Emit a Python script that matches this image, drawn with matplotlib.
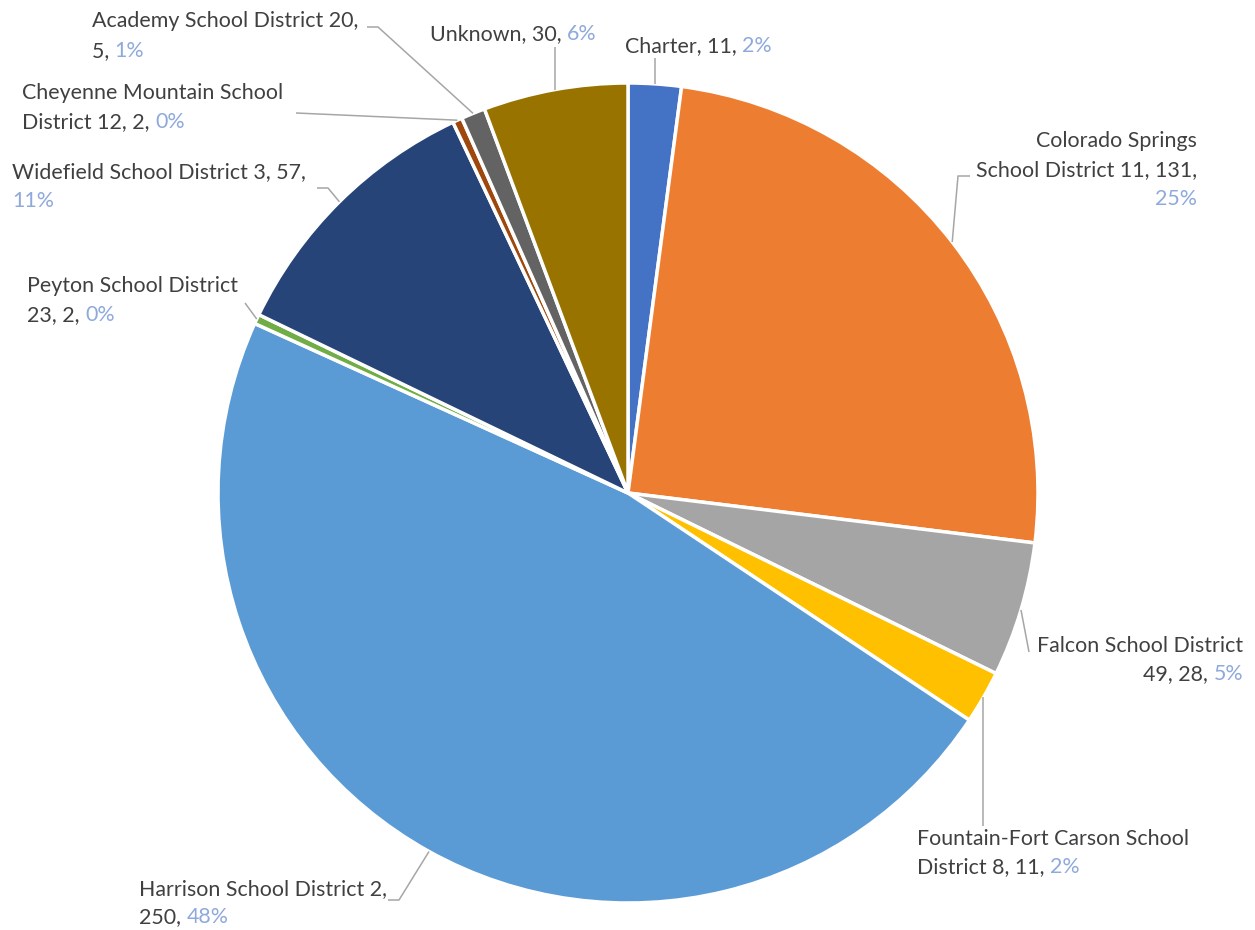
import numpy as np
import matplotlib.pyplot as plt

# data (counts per district, clockwise from top)
districts = [
    "Charter",
    "Colorado Springs School District 11",
    "Falcon School District 49",
    "Fountain-Fort Carson School District 8",
    "Harrison School District 2",
    "Peyton School District 23",
    "Widefield School District 3",
    "Cheyenne Mountain School District 12",
    "Academy School District 20",
    "Unknown",
]
counts = [11, 131, 28, 11, 250, 2, 57, 2, 5, 30]
pct_labels = ["2%", "25%", "5%", "2%", "48%", "0%", "11%", "0%", "1%", "6%"]
colors = ["#4472C4", "#ED7D31", "#A5A5A5", "#FFC000", "#5B9BD5",
          "#70AD47", "#264478", "#9E480E", "#636363", "#997300"]

W, H = 1255, 930
TEXT_COLOR = "#404040"
PCT_COLOR = "#8EA9DB"
LINE_COLOR = "#A6A6A6"
FONT = "Lato"
FSIZE = 15.4


def py(y):
    # pixel row (from top) -> data y
    return H - y


fig = plt.figure(figsize=(W / 100, H / 100), dpi=100)
ax = fig.add_axes([0, 0, 1, 1])
cx, cy, R = 628, py(493), 410
wedges, _ = ax.pie(counts, colors=colors, startangle=90, counterclock=False,
                   radius=R, center=(cx, cy),
                   wedgeprops=dict(edgecolor="white", linewidth=2.5))
ax.set_xlim(0, W)
ax.set_ylim(0, H)
ax.axis("off")

# label layout: text lines as (text, is_percent) segments, anchor x, alignment,
# baselines (pixel rows) and leader elbows (pixel coords, None = same x as wedge point)
layout = {
    0: dict(lines=[[(f"{districts[0]}, {counts[0]}, ", False), (pct_labels[0], True)]],
            x=625, ha="left", base=[52], path=[(None, 58)]),
    1: dict(lines=[[("Colorado Springs", False)],
                   [(f"School District 11, {counts[1]},", False)],
                   [(pct_labels[1], True)]],
            x=1197, ha="right", base=[147, 176, 205], path=[(958, 176), (970, 176)]),
    2: dict(lines=[[("Falcon School District", False)],
                   [(f"49, {counts[2]}, ", False), (pct_labels[2], True)]],
            x=1243, ha="right", base=[652, 680], path=[(1029, 652)]),
    3: dict(lines=[[("Fountain-Fort Carson School", False)],
                   [(f"District 8, {counts[3]}, ", False), (pct_labels[3], True)]],
            x=917, ha="left", base=[845, 873], path=[(None, 826)]),
    4: dict(lines=[[("Harrison School District 2,", False)],
                   [(f"{counts[4]}, ", False), (pct_labels[4], True)]],
            x=139, ha="left", base=[895, 923], path=[(399, 900), (388, 900)]),
    5: dict(lines=[[("Peyton School District", False)],
                   [(f"23, {counts[5]}, ", False), (pct_labels[5], True)]],
            x=27, ha="left", base=[292, 321], path=[(245, 303)]),
    6: dict(lines=[[(f"Widefield School District 3, {counts[6]},", False)],
                   [(pct_labels[6], True)]],
            x=12, ha="left", base=[178, 207], path=[(328, 188), (317, 188)]),
    7: dict(lines=[[("Cheyenne Mountain School", False)],
                   [(f"District 12, {counts[7]}, ", False), (pct_labels[7], True)]],
            x=22, ha="left", base=[99, 128], path=[(296, 113)]),
    8: dict(lines=[[("Academy School District 20,", False)],
                   [(f"{counts[8]}, ", False), (pct_labels[8], True)]],
            x=92, ha="left", base=[27, 57], path=[(378, 27), (367, 27)]),
    9: dict(lines=[[(f"{districts[9]}, {counts[9]}, ", False), (pct_labels[9], True)]],
            x=430, ha="left", base=[40], path=[(None, 47)]),
}


def draw_line(segs, x, y, ha):
    kw = dict(fontsize=FSIZE, family=FONT)
    if ha == "right":
        segs = segs[::-1]
    anchor = (1, 0) if ha == "left" else (0, 0)
    first, rest = segs[0], segs[1:]
    prev = ax.text(x, y, first[0], ha=ha, va="baseline",
                   color=PCT_COLOR if first[1] else TEXT_COLOR, **kw)
    for s, is_p in rest:
        prev = ax.annotate(s, xy=anchor, xycoords=prev, ha=ha, va="bottom",
                           color=PCT_COLOR if is_p else TEXT_COLOR, **kw)


for i, w in enumerate(wedges):
    spec = layout[i]
    for segs, b in zip(spec["lines"], spec["base"]):
        draw_line(segs, spec["x"], py(b), spec["ha"])
    mid = np.deg2rad((w.theta1 + w.theta2) / 2)
    sx, sy = cx + R * np.cos(mid), cy + R * np.sin(mid)
    xs, ys = [sx], [sy]
    for px, pyy in spec["path"]:
        xs.append(sx if px is None else px)
        ys.append(py(pyy))
    ax.plot(xs, ys, color=LINE_COLOR, linewidth=1.1, solid_capstyle="butt")

fig.savefig("out.png", dpi=100, facecolor="white")
